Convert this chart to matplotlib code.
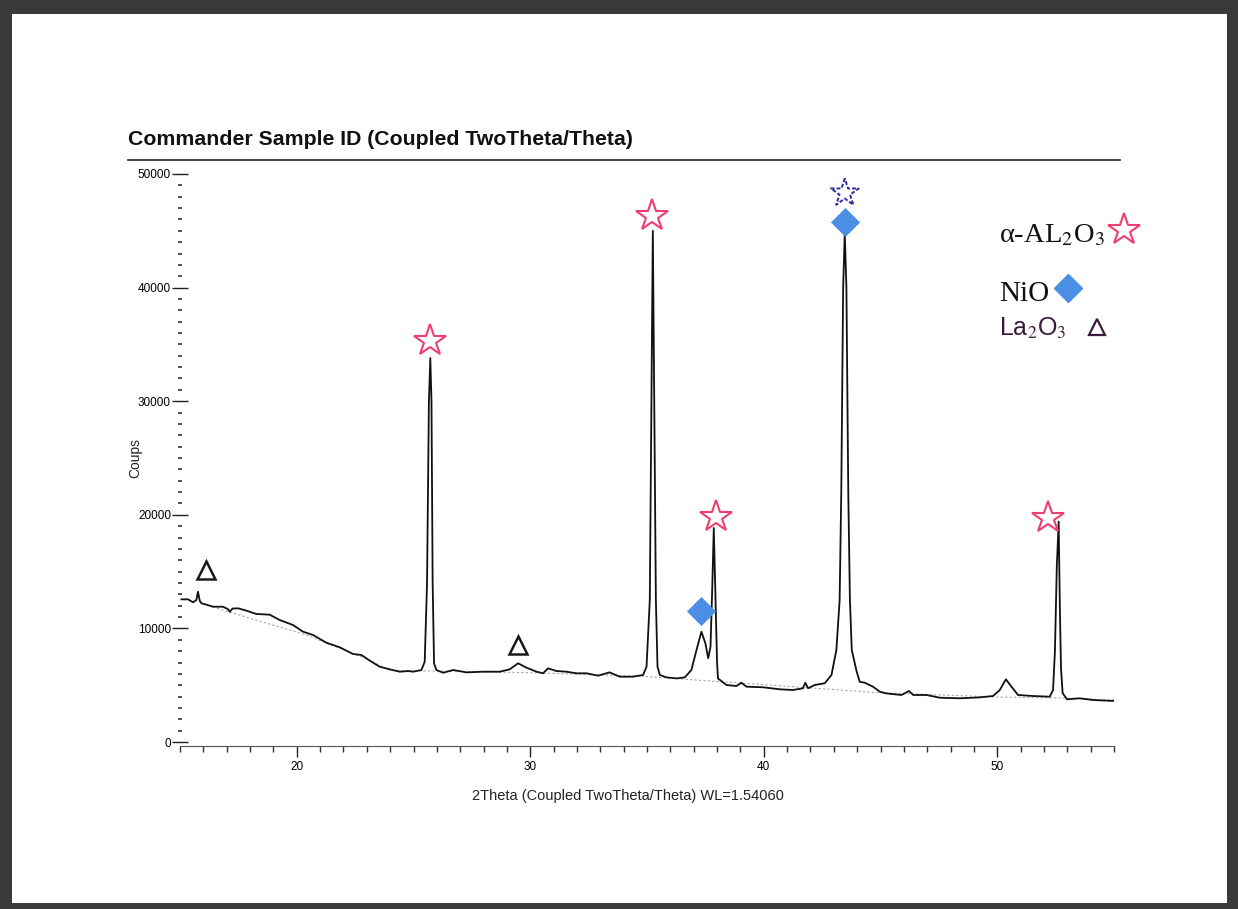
import matplotlib
matplotlib.use("Agg")
import matplotlib.pyplot as plt
from matplotlib.patches import Rectangle
from matplotlib.lines import Line2D
from matplotlib.ticker import MultipleLocator

plt.rcParams['font.family'] = ['Liberation Sans', 'DejaVu Sans']
plt.rcParams['mathtext.fontset'] = 'stix'

# ---------------- data ----------------
two_theta = [15.06, 15.34, 15.56, 15.70, 15.77, 15.85, 15.92, 16.13, 16.42, 16.84,
             17.05, 17.13, 17.25, 17.49, 17.85, 18.27, 18.84, 19.27, 19.84, 20.27,
             20.70, 21.27, 21.84, 22.41, 22.77, 23.13, 23.55, 23.98, 24.41, 24.77,
             24.98, 25.34, 25.48, 25.58, 25.66, 25.72, 25.77, 25.82, 25.88, 25.98,
             26.27, 26.70, 27.27, 27.98, 28.69, 29.12, 29.48, 29.84, 30.27, 30.55,
             30.76, 31.12, 31.55, 31.98, 32.41, 32.90, 33.40, 33.83, 34.40, 34.83,
             34.98, 35.12, 35.21, 35.25, 35.29, 35.38, 35.45, 35.55, 35.83, 36.26,
             36.62, 36.90, 37.12, 37.33, 37.50, 37.62, 37.72, 37.80, 37.86, 37.93,
             38.00, 38.04, 38.40, 38.83, 39.04, 39.26, 39.97, 40.69, 41.25, 41.68,
             41.78, 41.90, 42.18, 42.61, 42.90, 43.11, 43.25, 43.32, 43.40, 43.47,
             43.54, 43.62, 43.69, 43.77, 43.98, 44.11, 44.33, 44.68, 44.97, 45.25,
             45.90, 46.22, 46.40, 46.97, 47.54, 48.39, 49.25, 49.82, 50.11, 50.37,
             50.61, 50.89, 51.53, 52.25, 52.39, 52.47, 52.55, 52.63, 52.68, 52.73,
             52.80, 52.99, 53.53, 54.10, 55.03]
counts = [12560, 12560, 12300, 12500, 13230, 12400, 12210, 12090, 11910, 11910,
          11700, 11470, 11750, 11770, 11560, 11270, 11210, 10740, 10300, 9710,
          9420, 8740, 8340, 7750, 7660, 7160, 6630, 6400, 6190, 6250,
          6190, 6340, 7070, 14000, 30000, 33800, 30000, 14000, 6930, 6340,
          6100, 6340, 6130, 6190, 6190, 6400, 6930, 6540, 6190, 6050,
          6490, 6250, 6190, 6050, 6050, 5840, 6130, 5750, 5750, 5900,
          6630, 12500, 35000, 45000, 35000, 12500, 6630, 5900, 5690, 5600,
          5690, 6340, 8100, 9710, 8690, 7370, 8390, 14000, 18840, 13000,
          7000, 5600, 5020, 4930, 5220, 4870, 4820, 4640, 4580, 4730,
          5220, 4730, 5020, 5170, 5900, 8100, 12500, 22000, 40000, 44800,
          40000, 22000, 12500, 8100, 6190, 5300, 5220, 4870, 4430, 4280,
          4140, 4490, 4140, 4140, 3900, 3850, 3930, 4050, 4580, 5520,
          4870, 4140, 4050, 3990, 4580, 8000, 15400, 19400, 12000, 6500,
          4300, 3760, 3850, 3700, 3610]

bg_theta = [16.4, 20.4, 23.1, 24.0, 26.0, 30.0, 34.7, 44.9, 50.0, 52.8, 55.0]
bg_counts = [11880, 9420, 7220, 6300, 6250, 6100, 5800, 4350, 3960, 3870, 3700]

al2o3_theta = [25.70, 35.20, 37.94, 52.16]
al2o3_mark = [35300, 46300, 19800, 19700]
nio_theta = [37.30, 43.47]
nio_mark = [11530, 45780]
nio_star_theta = [43.47]
nio_star_mark = [48330]
la2o3_theta = [16.10, 29.46]
la2o3_mark = [15140, 8540]

x_ticks = [20, 30, 40, 50]
y_ticks = [0, 10000, 20000, 30000, 40000, 50000]

title = "Commander Sample ID (Coupled TwoTheta/Theta)"
xlabel = "2Theta (Coupled TwoTheta/Theta) WL=1.54060"
ylabel = "Coups"

# ---------------- figure ----------------
W, H = 1238, 909
fig = plt.figure(figsize=(W / 100, H / 100), dpi=100)
fig.patch.set_facecolor('#3a3a3a')
fig.add_artist(Rectangle((12 / W, (H - 903) / H), (1227 - 12) / W, (903 - 14) / H,
                         transform=fig.transFigure, facecolor='white', edgecolor='none', zorder=0))

ax = fig.add_axes([180 / W, (H - 746) / H, (1114 - 180) / W, (746 - 174) / H])
ax.set_facecolor('none')
ax.set_xlim(15, 55)
ax.set_ylim(-350, 50000)

ax.plot(bg_theta, bg_counts, color='#a8a8a8', lw=0.8, ls=(0, (2, 2)), zorder=2)
ax.plot(two_theta, counts, color='#111111', lw=1.3, zorder=3)

pink = '#EE3F6E'
blue = '#4A8FE3'
ax.plot(al2o3_theta, al2o3_mark, ls='none', marker='*', ms=24, mfc='none',
        mec=pink, mew=1.5, clip_on=False, zorder=5)
ax.plot(nio_theta, nio_mark, ls='none', marker='D', ms=14.5, mfc=blue,
        mec=blue, mew=0.5, clip_on=False, zorder=6)
ax.scatter(nio_star_theta, nio_star_mark, marker='*', s=21 ** 2, facecolors='none',
           edgecolors='#2e2e9e', linewidths=1.4, linestyles=(0, (2, 1)),
           clip_on=False, zorder=6)
ax.plot(la2o3_theta, la2o3_mark, ls='none', marker='^', ms=13, mfc='none',
        mec='#1a1a1a', mew=1.8, clip_on=False, zorder=5)

# axes styling
for s in ['top', 'right', 'left']:
    ax.spines[s].set_visible(False)
ax.spines['bottom'].set_color('#555555')
ax.spines['bottom'].set_linewidth(0.8)

ax.set_xticks(x_ticks)
ax.set_yticks(y_ticks)
ax.xaxis.set_minor_locator(MultipleLocator(1))
ax.yaxis.set_minor_locator(MultipleLocator(1000))
ax.tick_params(axis='y', which='major', direction='inout', length=11, width=1.0,
               pad=1, labelsize=8.5, color='#222222')
ax.tick_params(axis='y', which='minor', direction='inout', length=3, width=1.2,
               color='#333333')
ax.tick_params(axis='x', which='major', direction='out', length=8, width=1.0,
               pad=3, labelsize=8.5, color='#222222')
ax.tick_params(axis='x', which='minor', direction='out', length=4, width=1.0,
               color='#333333')

fig.text(135 / W, (H - 458) / H, ylabel, rotation=90, ha='center', va='center',
         fontsize=10, color='#222222')
fig.text(628 / W, (H - 796) / H, xlabel, ha='center', va='center',
         fontsize=10.5, color='#222222')

fig.text(128 / W, (H - 145) / H, title, ha='left', va='baseline',
         fontsize=15.3, weight='bold', color='#111111')
fig.add_artist(Line2D([128 / W, 1120 / W], [(H - 160) / H] * 2,
                      transform=fig.transFigure, color='#222222', lw=1.2))

# legend (annotations at right)
serif = ['Liberation Serif', 'DejaVu Serif']
ax.text(0.877, 0.892, r"α-AL$_2$O$_3$", transform=ax.transAxes, ha='left',
        va='center', fontsize=20.5, family=serif, color='#111111')
ax.plot([1.011], [0.902], transform=ax.transAxes, ls='none', marker='*', ms=24,
        mfc='none', mec=pink, mew=1.5, clip_on=False)
ax.text(0.877, 0.790, "NiO", transform=ax.transAxes, ha='left', va='center',
        fontsize=21, family=serif, color='#111111')
ax.plot([0.951], [0.801], transform=ax.transAxes, ls='none', marker='D', ms=14.5,
        mfc=blue, mec=blue, clip_on=False)
ax.text(0.877, 0.731, r"La$_2$O$_3$", transform=ax.transAxes, ha='left', va='center',
        fontsize=18, color='#3b1b3b')
ax.plot([0.982], [0.733], transform=ax.transAxes, ls='none', marker='^', ms=12,
        mfc='none', mec='#3b1b3b', mew=1.6, clip_on=False)

fig.savefig('out.png', dpi=100, facecolor=fig.get_facecolor())
